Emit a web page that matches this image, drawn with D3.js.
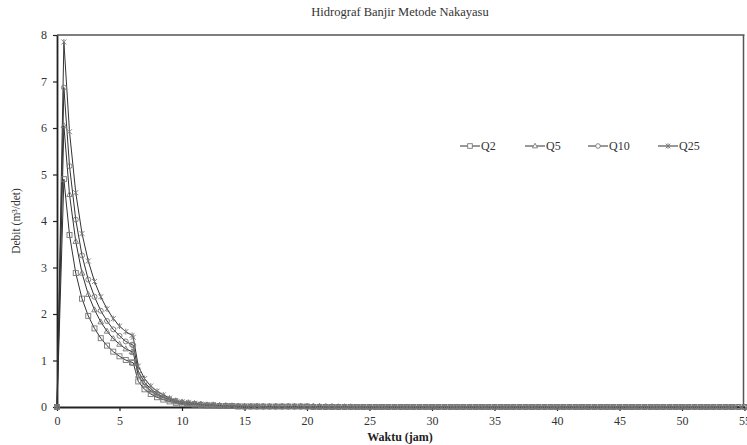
<!DOCTYPE html>
<html>
<head>
<meta charset="utf-8">
<script src="https://cdn.jsdelivr.net/npm/d3@7"></script>
<style>
  body { margin: 0; background: #fff; }
  svg { display: block; font-family: "Liberation Serif", "Times New Roman", serif; }
</style>
</head>
<body>
<svg width="747" height="445"></svg>
<script>
// waktu (jam)
const waktu = [0, 0.55, 1, 1.5, 2, 2.5, 3, 3.5, 4, 4.5, 5, 5.5, 6, 6.1,
  6.5, 7, 7.5, 8, 8.5, 9, 9.5, 10, 10.5, 11, 11.5, 12, 12.5, 13, 13.5, 14, 14.5, 15,
  15.5, 16, 16.5, 17, 17.5, 18, 18.5, 19, 19.5, 20, 20.5, 21, 21.5, 22, 22.5, 23, 23.5, 24, 24.5, 25,
  25.5, 26, 26.5, 27, 27.5, 28, 28.5, 29, 29.5, 30, 30.5, 31, 31.5, 32, 32.5, 33, 33.5, 34, 34.5, 35,
  35.5, 36, 36.5, 37, 37.5, 38, 38.5, 39, 39.5, 40, 40.5, 41, 41.5, 42, 42.5, 43, 43.5, 44, 44.5, 45,
  45.5, 46, 46.5, 47, 47.5, 48, 48.5, 49, 49.5, 50, 50.5, 51, 51.5, 52, 52.5, 53, 53.5, 54, 54.5, 55];

// debit (m3/det)
const q2 = [0, 4.90, 3.70, 2.88, 2.33, 1.96, 1.69, 1.48, 1.32, 1.19, 1.09, 1.01, 0.96, 0.95,
  0.55, 0.38, 0.28, 0.21, 0.16, 0.12, 0.09, 0.07, 0.06, 0.05, 0.04, 0.03, 0.03, 0.02, 0.02, 0.02, 0.01, 0.01,
  0.01, 0.01, 0.01, 0.01, 0.01, 0.01, 0.01, 0.01, 0.01, 0.01, 0, 0, 0, 0, 0, 0, 0, 0, 0, 0,
  0, 0, 0, 0, 0, 0, 0, 0, 0, 0, 0, 0, 0, 0, 0, 0, 0, 0, 0, 0,
  0, 0, 0, 0, 0, 0, 0, 0, 0, 0, 0, 0, 0, 0, 0, 0, 0, 0, 0, 0,
  0, 0, 0, 0, 0, 0, 0, 0, 0, 0, 0, 0, 0, 0, 0, 0, 0, 0, 0, 0];
const q5 = [0, 6.05, 4.57, 3.56, 2.88, 2.42, 2.09, 1.83, 1.63, 1.47, 1.35, 1.25, 1.19, 1.17,
  0.68, 0.47, 0.35, 0.26, 0.20, 0.15, 0.11, 0.09, 0.07, 0.06, 0.05, 0.04, 0.03, 0.03, 0.02, 0.02, 0.02, 0.01,
  0.01, 0.01, 0.01, 0.01, 0.01, 0.01, 0.01, 0.01, 0.01, 0.01, 0.01, 0.01, 0, 0, 0, 0, 0, 0, 0, 0,
  0, 0, 0, 0, 0, 0, 0, 0, 0, 0, 0, 0, 0, 0, 0, 0, 0, 0, 0, 0,
  0, 0, 0, 0, 0, 0, 0, 0, 0, 0, 0, 0, 0, 0, 0, 0, 0, 0, 0, 0,
  0, 0, 0, 0, 0, 0, 0, 0, 0, 0, 0, 0, 0, 0, 0, 0, 0, 0, 0, 0];
const q10 = [0, 6.87, 5.18, 4.03, 3.26, 2.74, 2.37, 2.07, 1.85, 1.67, 1.53, 1.41, 1.34, 1.33,
  0.77, 0.53, 0.39, 0.29, 0.22, 0.17, 0.13, 0.10, 0.08, 0.07, 0.06, 0.04, 0.04, 0.03, 0.03, 0.02, 0.02, 0.01,
  0.01, 0.01, 0.01, 0.01, 0.01, 0.01, 0.01, 0.01, 0.01, 0.01, 0.01, 0.01, 0.01, 0.01, 0, 0, 0, 0, 0, 0,
  0, 0, 0, 0, 0, 0, 0, 0, 0, 0, 0, 0, 0, 0, 0, 0, 0, 0, 0, 0,
  0, 0, 0, 0, 0, 0, 0, 0, 0, 0, 0, 0, 0, 0, 0, 0, 0, 0, 0, 0,
  0, 0, 0, 0, 0, 0, 0, 0, 0, 0, 0, 0, 0, 0, 0, 0, 0, 0, 0, 0];
const q25 = [0, 7.85, 5.92, 4.61, 3.73, 3.14, 2.70, 2.37, 2.11, 1.90, 1.74, 1.62, 1.54, 1.50,
  0.88, 0.61, 0.45, 0.34, 0.26, 0.19, 0.14, 0.11, 0.10, 0.08, 0.06, 0.05, 0.05, 0.03, 0.03, 0.03, 0.02, 0.02,
  0.02, 0.02, 0.01, 0.01, 0.01, 0.01, 0.01, 0.01, 0.01, 0.01, 0.01, 0.01, 0.01, 0.01, 0.01, 0.01, 0.01, 0,
  0, 0, 0, 0, 0, 0, 0, 0, 0, 0, 0, 0, 0, 0, 0, 0, 0, 0, 0, 0,
  0, 0, 0, 0, 0, 0, 0, 0, 0, 0, 0, 0, 0, 0, 0, 0, 0, 0, 0, 0,
  0, 0, 0, 0, 0, 0, 0, 0, 0, 0, 0, 0, 0, 0, 0, 0, 0, 0, 0, 0];

const seriesNames = ['Q2', 'Q5', 'Q10', 'Q25'];
const markerTypes = ['square', 'triangle', 'circle', 'star'];
const xTicks = [0, 5, 10, 15, 20, 25, 30, 35, 40, 45, 50, 55];
const yTicks = [0, 1, 2, 3, 4, 5, 6, 7, 8];

const series = [q2, q5, q10, q25].map((vals, i) => ({
  name: seriesNames[i],
  marker: markerTypes[i],
  points: vals.map((v, j) => ({ t: waktu[j], q: v }))
}));

const svg = d3.select('svg');
const margin = { top: 35, right: 3, bottom: 38, left: 57 };
const height = +svg.attr('height');
// plot dipotong di kanan seperti aslinya (tick 55 tepat di tepi)
const innerWidth = 744.5 - margin.left;
const innerHeight = height - margin.top - margin.bottom;

const x = d3.scaleLinear().domain([0, 55]).range([0, innerWidth]);
const y = d3.scaleLinear().domain([0, 8]).range([innerHeight, 0]);

const g = svg.append('g').attr('transform', `translate(${margin.left},${margin.top})`);

// kotak plot (atas & kanan)
g.append('line').attr('x1', 0).attr('x2', innerWidth).attr('y1', 0).attr('y2', 0)
  .attr('stroke', '#555').attr('stroke-width', 1.5);
g.append('line').attr('x1', innerWidth - 1).attr('x2', innerWidth - 1).attr('y1', 0).attr('y2', innerHeight)
  .attr('stroke', '#555').attr('stroke-width', 1.5);

// sumbu
const xAxis = g.append('g')
  .attr('transform', `translate(0,${innerHeight})`)
  .call(d3.axisBottom(x).tickValues(xTicks).tickSize(4).tickSizeOuter(0).tickPadding(5));
const yAxis = g.append('g')
  .call(d3.axisLeft(y).tickValues(yTicks).tickSize(4).tickSizeOuter(0).tickPadding(6));

[xAxis, yAxis].forEach(ax => {
  ax.attr('font-family', null).attr('font-size', null);
  ax.select('.domain').attr('stroke', '#222').attr('stroke-width', 1.8);
  ax.selectAll('.tick line').attr('stroke', '#222').attr('stroke-width', 1.2);
  ax.selectAll('.tick text').attr('fill', '#333').style('font-size', '12px');
});

// garis
const line = d3.line().x(d => x(d.t)).y(d => y(d.q));

g.selectAll('.seri').data(series).enter().append('path')
  .attr('class', 'seri')
  .attr('d', d => line(d.points))
  .attr('fill', 'none')
  .attr('stroke', '#333')
  .attr('stroke-width', 1);

function drawMarker(sel, type, s) {
  if (type === 'square') {
    sel.append('rect').attr('x', -s).attr('y', -s).attr('width', 2 * s).attr('height', 2 * s);
  } else if (type === 'triangle') {
    sel.append('path').attr('d', `M0,${-s * 1.2}L${s * 1.1},${s * 0.8}L${-s * 1.1},${s * 0.8}Z`);
  } else if (type === 'circle') {
    sel.append('circle').attr('r', s);
  } else {
    sel.append('path').attr('d', `M${-s},${-s}L${s},${s}M${-s},${s}L${s},${-s}M0,${-s * 1.2}L0,${s * 1.2}`);
  }
}

series.forEach(sr => {
  const mg = g.append('g').attr('fill', 'none').attr('stroke', '#777').attr('stroke-width', 0.9);
  sr.points.forEach(p => {
    const m = mg.append('g').attr('transform', `translate(${x(p.t)},${y(p.q)})`);
    drawMarker(m, sr.marker, 2.5);
  });
});

// legenda
const legendX = [460, 525, 588, 658];
const leg = svg.append('g').attr('transform', 'translate(0,146)');
series.forEach((sr, i) => {
  const lg = leg.append('g').attr('transform', `translate(${legendX[i]},0)`);
  lg.append('line').attr('x1', 0).attr('x2', 20).attr('stroke', '#333').attr('stroke-width', 1);
  const m = lg.append('g').attr('transform', 'translate(10,0)')
    .attr('fill', '#fff').attr('stroke', '#777').attr('stroke-width', 0.9);
  drawMarker(m, sr.marker, 2.3);
  lg.append('text').attr('x', 21).attr('y', 4).style('font-size', '12px').attr('fill', '#333').text(sr.name);
});

// judul
svg.append('text').attr('x', 400).attr('y', 16).attr('text-anchor', 'middle')
  .style('font-size', '12.5px').attr('fill', '#333').text('Hidrograf Banjir Metode Nakayasu');

svg.append('text').attr('x', 400).attr('y', 441).attr('text-anchor', 'middle')
  .style('font-size', '12px').style('font-weight', 'bold').attr('fill', '#222').text('Waktu (jam)');

svg.append('text').attr('transform', 'translate(20,221) rotate(-90)').attr('text-anchor', 'middle')
  .style('font-size', '11.5px').attr('fill', '#333').text('Debit (m³/det)');
</script>
</body>
</html>
